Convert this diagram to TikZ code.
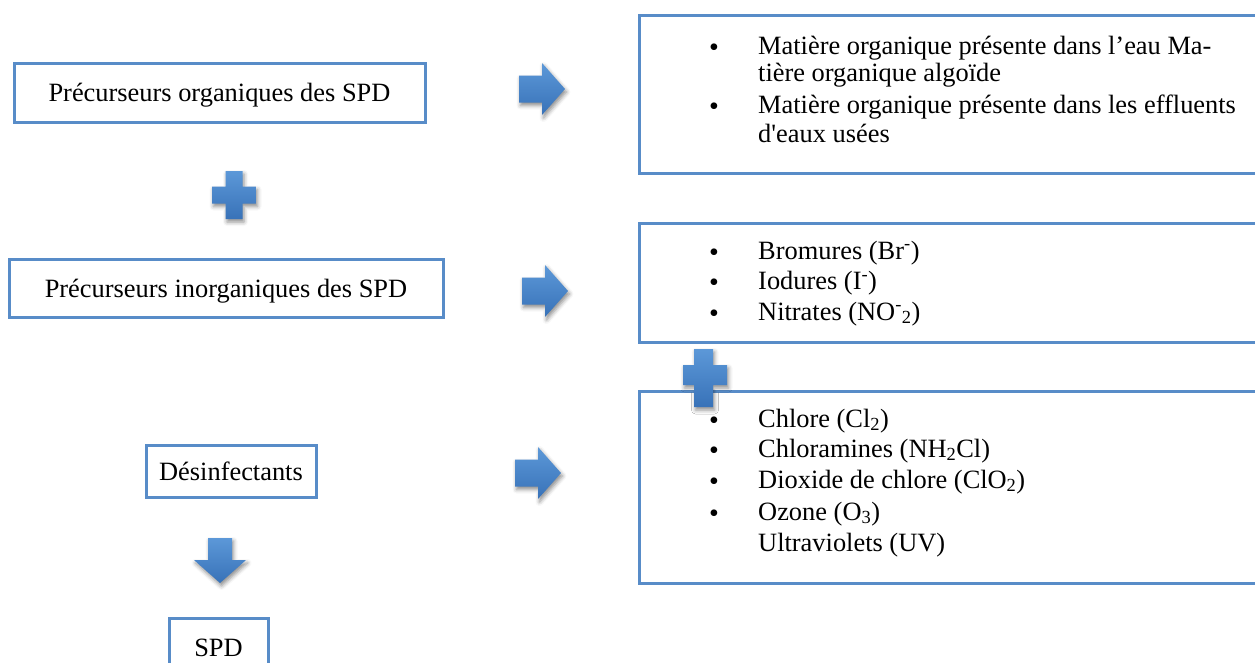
\documentclass[tikz,border=0pt]{standalone}
\usepackage{fontspec}
\setmainfont{Liberation Serif}[Ligatures=TeXOff]
\usetikzlibrary{shadows.blur}
\definecolor{boxblue}{RGB}{88,140,200}
\definecolor{fillhi}{RGB}{92,152,216}
\definecolor{filllo}{RGB}{56,114,184}
\begin{document}
\begin{tikzpicture}[x=1pt,y=-1pt,
  fnt/.style={font=\fontsize{26.4}{31}\selectfont},
  box/.style={draw=boxblue, line width=3pt, fill=white, inner sep=0pt, fnt, text height=24pt, text depth=6pt},
  txt/.style={inner sep=0pt, anchor=base west, fnt},
  bul/.style={inner sep=0pt, anchor=base, yshift=-2pt, text height=13pt, text depth=0pt, font=\fontsize{28}{28}\selectfont},
  shape3d/.style={top color=fillhi, bottom color=filllo, draw=none,
    blur shadow={shadow xshift=1.5pt, shadow yshift=-3pt, shadow blur radius=4pt, shadow opacity=45}}
]
\useasboundingbox (0,0) rectangle (1255,662);
\clip (0,0) rectangle (1255,662);

% left column
\node[box, minimum width=411pt, minimum height=59pt] (org) at (219.5,92.5) {Précurseurs organiques des SPD};
\node[box, minimum width=434pt, minimum height=58pt] (inorg) at (226,288) {Précurseurs inorganiques des SPD};
\node[box, minimum width=170pt, minimum height=52pt] (desinf) at (231,471) {Désinfectants};
\node[box, minimum width=99pt, minimum height=58pt] (spd) at (218.5,647) {SPD};

% right column boxes
\node[box, minimum width=640pt, minimum height=158pt, anchor=north west] (rorg) at (638,14) {};
\node[box, minimum width=640pt, minimum height=119pt, anchor=north west] (rinorg) at (638,222) {};
\node[box, minimum width=640pt, minimum height=192pt, anchor=north west] (rdes) at (638,390) {};
\draw[boxblue, line width=2pt] (667,342.5) -- (740,342.5);

% texts of right boxes
\node[bul] (b11) at (714,54) {•};
\node[txt] (t11) at (758,54) {Matière organique présente dans l’eau Ma-};
\node[txt] (t12) at (758,81) {tière organique algoïde};
\node[bul] (b13) at (714,113) {•};
\node[txt] (t13) at (758,113) {Matière organique présente dans les effluents};
\node[txt] (t14) at (758,142) {d'eaux usées};

\node[bul] (b21) at (714,259) {•};
\node[txt] (t21) at (758,259) {Bromures (Br\textsuperscript{-})};
\node[bul] (b22) at (714,289.5) {•};
\node[txt] (t22) at (758,289.5) {Iodures (I\textsuperscript{-})};
\node[bul] (b23) at (714,320) {•};
\node[txt] (t23) at (758,320) {Nitrates (NO\textsuperscript{-}\textsubscript{2})};

\node[bul] (b31) at (714,427) {•};
\node[txt] (t31) at (758,427) {Chlore (Cl\textsubscript{2})};
\node[bul] (b32) at (714,457) {•};
\node[txt] (t32) at (758,457) {Chloramines (NH\textsubscript{2}Cl)};
\node[bul] (b33) at (714,488) {•};
\node[txt] (t33) at (758,488) {Dioxide de chlore (ClO\textsubscript{2})};
\node[bul] (b34) at (714,520) {•};
\node[txt] (t34) at (758,520) {Ozone (O\textsubscript{3})};
\node[txt] (t35) at (758,551) {Ultraviolets (UV)};

% plus signs
\path[shape3d] (225.5,171) -- (242.5,171) -- (242.5,186.5) -- (256,186.5) -- (256,203.5) -- (242.5,203.5) -- (242.5,219) -- (225.5,219) -- (225.5,203.5) -- (212,203.5) -- (212,186.5) -- (225.5,186.5) -- cycle;
\path[shape3d] (694,349) -- (713,349) -- (713,365) -- (727,365) -- (727,385) -- (713,385) -- (713,407) -- (694,407) -- (694,385) -- (683,385) -- (683,365) -- (694,365) -- cycle;

% block arrows
\path[shape3d] (519,75.5) -- (542,75.5) -- (542,63) -- (565,89) -- (542,115) -- (542,102.5) -- (519,102.5) -- cycle;
\path[shape3d] (522,277.5) -- (545,277.5) -- (545,265) -- (568,291) -- (545,317) -- (545,304.5) -- (522,304.5) -- cycle;
\path[shape3d] (515,459.5) -- (538,459.5) -- (538,447) -- (561,473) -- (538,499) -- (538,486.5) -- (515,486.5) -- cycle;
\path[shape3d] (208,538) -- (232,538) -- (232,560) -- (246,560) -- (220,583) -- (194,560) -- (208,560) -- cycle;
\end{tikzpicture}
\end{document}
